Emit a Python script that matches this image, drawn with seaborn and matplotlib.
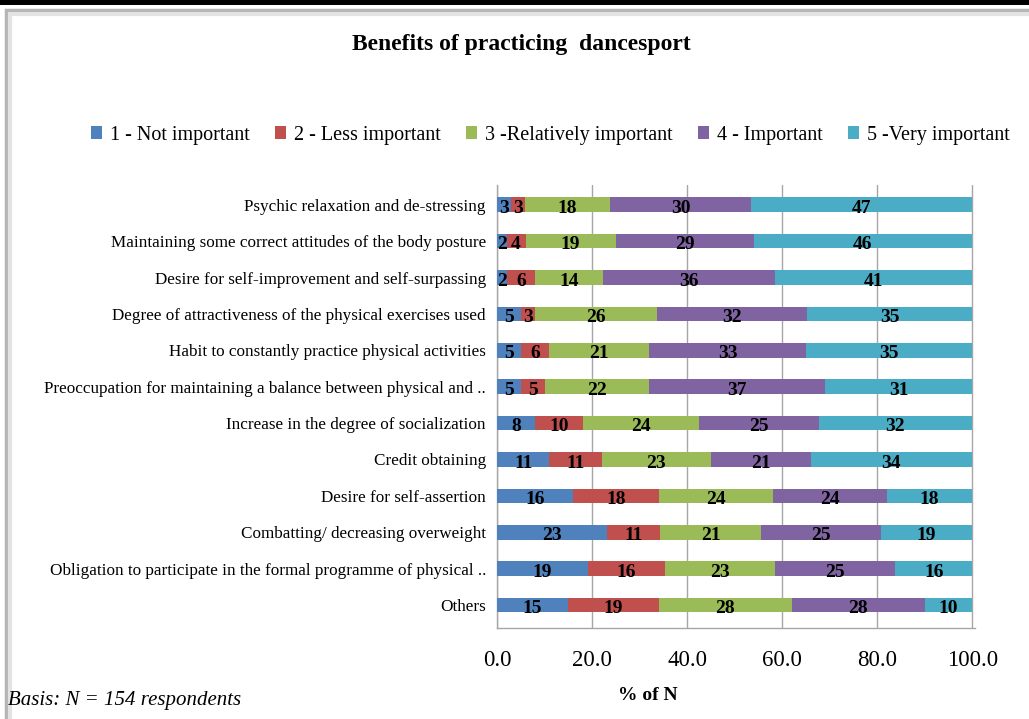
import matplotlib
matplotlib.use("Agg")
import matplotlib.pyplot as plt
import seaborn as sns
import pandas as pd
import numpy as np
from matplotlib.patches import Rectangle, Patch

categories = [
    "Psychic relaxation and de-stressing",
    "Maintaining some correct attitudes of the body posture",
    "Desire for self-improvement and self-surpassing",
    "Degree of attractiveness of the physical exercises used",
    "Habit to constantly practice physical activities",
    "Preoccupation for maintaining a balance between physical and ..",
    "Increase in the degree of socialization",
    "Credit obtaining",
    "Desire for self-assertion",
    "Combatting/ decreasing overweight",
    "Obligation to participate in the formal programme of physical ..",
    "Others",
]
series_names = ["1 - Not important", "2 - Less important", "3 -Relatively important",
                "4 - Important", "5 -Very important"]
not_important = [3, 2, 2, 5, 5, 5, 8, 11, 16, 23, 19, 15]
less_important = [3, 4, 6, 3, 6, 5, 10, 11, 18, 11, 16, 19]
relatively_important = [18, 19, 14, 26, 21, 22, 24, 23, 24, 21, 23, 28]
important = [30, 29, 36, 32, 33, 37, 25, 21, 24, 25, 25, 28]
very_important = [47, 46, 41, 35, 35, 31, 32, 34, 18, 19, 16, 10]
x_ticks = [0, 20, 40, 60, 80, 100]

colors = ["#4F81BD", "#C0504D", "#9BBB59", "#8064A2", "#4BACC6"]

series = [not_important, less_important, relatively_important, important, very_important]
vals = np.array(series, dtype=float)
# 100% stacked: each row is shown as share of its total
shares = vals / vals.sum(axis=0) * 100
cum = np.cumsum(shares, axis=0)

sns.set_style("white")
plt.rcParams['font.family'] = ['Liberation Serif', 'DejaVu Serif']
plt.rcParams['text.color'] = 'black'
plt.rcParams['xtick.color'] = 'black'
plt.rcParams['ytick.color'] = 'black'
plt.rcParams['axes.labelcolor'] = 'black'

fig = plt.figure(figsize=(10.29, 7.19), dpi=100)
ax = fig.add_axes([0.483, 0.1266, 0.4645, 0.6165])

for t in x_ticks:
    ax.axvline(t, color="#A6A6A6", lw=1.0, zorder=0)

for i in range(4, -1, -1):
    df = pd.DataFrame({"cat": categories, "val": cum[i]})
    sns.barplot(data=df, y="cat", x="val", color=colors[i], orient="h",
                width=0.4, ax=ax, saturation=1, zorder=2 + (4 - i),
                edgecolor="none")

for i in range(5):
    left = cum[i] - shares[i]
    for j, v in enumerate(vals[i]):
        ax.text(left[j] + shares[i][j] / 2, j + 0.1, f"{int(v)}", ha="center", va="center",
                fontsize=14, fontweight="bold", color="black", zorder=20)

ax.set_xlim(0, 100.6)
ax.set_ylim(11.63, -0.55)
ax.set_xticks(x_ticks)
ax.set_xticklabels([f"{t:.1f}" for t in x_ticks], fontsize=16.5)
ax.tick_params(axis="x", length=0, pad=16)
ax.tick_params(axis="y", length=0, pad=8, labelsize=12.3)
ax.set_ylabel("")
ax.set_xlabel("% of N", fontsize=14, fontweight="bold")
ax.xaxis.set_label_coords(0.316, -0.133)
for s in ["top", "right"]:
    ax.spines[s].set_visible(False)
for s in ["left", "bottom"]:
    ax.spines[s].set_color("#A6A6A6")
    ax.spines[s].set_linewidth(1.0)

fig.text(0.507, 0.938, "Benefits of practicing  dancesport", ha="center", va="center",
         fontsize=17, fontweight="bold")

handles = [Patch(facecolor=c, edgecolor="none") for c in colors]
fig.legend(handles, series_names, loc="center", bbox_to_anchor=(0.535, 0.812), ncol=5,
           frameon=False, fontsize=14.5, handlelength=0.55, handleheight=0.55,
           columnspacing=1.25, handletextpad=0.4)

fig.text(0.008, 0.026, "Basis: N = 154 respondents", ha="left", va="center",
         fontsize=15, fontstyle="italic")

fig.patches.append(Rectangle((0, 0.993), 1, 0.007, transform=fig.transFigure,
                             facecolor="black", edgecolor="none", zorder=0))
fig.patches.append(Rectangle((0.006, -0.01), 1.0, 0.996, transform=fig.transFigure,
                             facecolor="none", edgecolor="#B5B5B5", lw=2.5, zorder=0))
fig.patches.append(Rectangle((0.0095, -0.01), 1.0, 0.99, transform=fig.transFigure,
                             facecolor="none", edgecolor="#E3E3E3", lw=3, zorder=0))

fig.savefig("out.png", dpi=100)
